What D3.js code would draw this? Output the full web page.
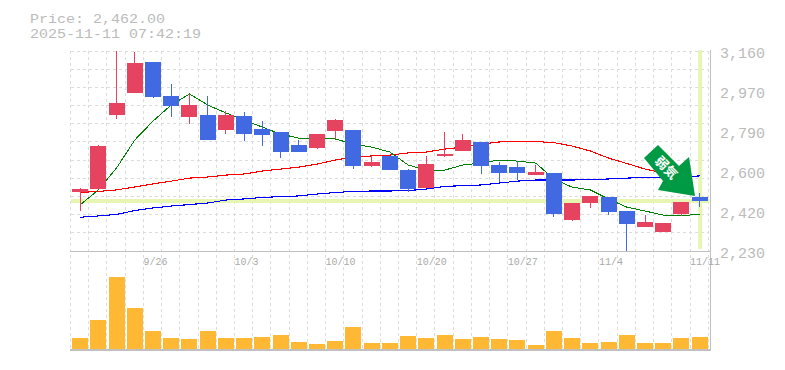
<!DOCTYPE html>
<html><head><meta charset="utf-8">
<script src="https://cdn.jsdelivr.net/npm/d3@7"></script>
<style>html,body{margin:0;padding:0;background:#fff}svg{display:block}</style></head>
<body><svg id="c" width="785" height="370"></svg>
<script>
const titleLines = ["Price: 2,462.00", "2025-11-11 07:42:19"];
const arrowLabel = "弱気";
const opens  = [2504,2518,2862,2965,3109,2951,2853,2862,2792,2858,2797,2783,2723,2709,2788,2792,2625,2672,2606,2523,2672,2695,2737,2630,2620,2583,2593,2374,2453,2481,2416,2341,2318,2402,2481];
const highs  = [2523,2723,3160,3155,3109,3006,2960,2951,2881,2876,2834,2783,2746,2774,2844,2792,2672,2672,2611,2672,2783,2774,2737,2644,2648,2630,2593,2453,2486,2481,2416,2397,2360,2458,2500];
const lows   = [2417,2518,2845,2965,2941,2853,2820,2746,2774,2741,2718,2662,2690,2704,2751,2611,2620,2606,2504,2523,2667,2695,2588,2551,2560,2583,2388,2369,2430,2397,2230,2341,2318,2393,2434];
const closes = [2518,2718,2918,3104,2946,2904,2909,2746,2862,2774,2769,2690,2690,2774,2839,2625,2644,2606,2518,2634,2681,2746,2625,2593,2593,2597,2402,2453,2486,2411,2355,2365,2360,2458,2462];
const maShort = [2444,2514,2616,2746,2834,2909,2960,2909,2872,2839,2806,2774,2755,2751,2751,2727,2713,2690,2630,2606,2606,2630,2639,2653,2648,2639,2565,2527,2514,2472,2434,2416,2397,2393,2402];
const maMid   = [2502,2507,2514,2528,2542,2555,2569,2574,2583,2588,2602,2611,2620,2634,2653,2667,2672,2676,2686,2690,2704,2713,2727,2737,2739,2739,2734,2718,2695,2662,2637,2611,2593,2569];
const maLong  = [2387,2393,2400,2418,2430,2439,2446,2453,2467,2472,2479,2483,2486,2495,2502,2507,2509,2509,2511,2518,2530,2534,2537,2546,2555,2560,2560,2560,2562,2565,2569,2572,2574,2576,2579];
const volumes = [10,28,71,40,17,10,9,17,10,10,11,13,6,4,7,21,5,5,12,10,13,9,11,9,8,3,17,10,5,6,13,5,5,10,11];
const priceTicks = [3160,2970,2790,2600,2420,2230];
const dateLabels = [[4,"9/26"],[9,"10/3"],[14,"10/10"],[19,"10/20"],[24,"10/27"],[29,"11/4"],[34,"11/11"]];
const lastPrice = 2462;

const svg = d3.select("#c");
const mono = "'Liberation Mono','DejaVu Sans Mono',monospace";
const n = closes.length;
const x = d3.scaleBand().domain(d3.range(n)).range([70.5, 708.3]).paddingInner(0).paddingOuter(0);
const cx = i => x(i) + x.bandwidth()/2 + 0.5;
const y = d3.scaleLinear().domain([2230,3160]).range([251,51]);
const yv = d3.scaleLinear().domain([0,71]).range([348.5,277]);
const gridVals = d3.range(12).map(i => 2230 + i*930/11);

const grid = svg.append("g").attr("stroke","#dcdcdc").attr("stroke-dasharray","3 3").attr("shape-rendering","crispEdges");
grid.selectAll(".h").data(gridVals.slice(1)).join("line")
  .attr("x1",70.5).attr("x2",708).attr("y1",d=>y(d)).attr("y2",d=>y(d));
grid.selectAll(".v").data(d3.range(n+1)).join("line")
  .attr("x1",i=>i<n?x(i):708.3).attr("x2",i=>i<n?x(i):708.3).attr("y1",51).attr("y2",348);

svg.append("line").attr("x1",71).attr("x2",709.5).attr("y1",y(lastPrice)).attr("y2",y(lastPrice))
  .attr("stroke","#e6f6b2").attr("stroke-width",4);
svg.append("line").attr("x1",cx(n-1)+0.5).attr("x2",cx(n-1)+0.5).attr("y1",50).attr("y2",249)
  .attr("stroke","#e6f6b2").attr("stroke-width",4);

const frame = svg.append("g").attr("stroke","#c0c0c0").attr("shape-rendering","crispEdges");
frame.append("line").attr("x1",70).attr("x2",710).attr("y1",251).attr("y2",251);
frame.append("line").attr("x1",70).attr("x2",710).attr("y1",350).attr("y2",350).attr("stroke-width",2);
frame.append("line").attr("x1",710).attr("x2",710).attr("y1",50).attr("y2",351);

const line = d3.line().x((d,i)=>cx(i)).y(d=>y(d));
[[maLong,"#0000ff",1.1],[maMid,"#ff0000",1.1],[maShort,"#008000",1]].forEach(([a,c,w])=>{
  svg.append("path").attr("d",line(a)).attr("fill","none").attr("stroke",c).attr("stroke-width",w).attr("shape-rendering","crispEdges");
});

const col = i => closes[i] >= opens[i] ? "#e5435f" : "#4169e1";
const candles = svg.append("g").attr("shape-rendering","crispEdges");
candles.selectAll(".w").data(d3.range(n)).join("line")
  .attr("x1",cx).attr("x2",cx).attr("y1",i=>y(highs[i])).attr("y2",i=>y(lows[i]))
  .attr("stroke",col).attr("stroke-width",1);
candles.selectAll(".b").data(d3.range(n)).join("rect")
  .attr("x",i=>cx(i)-8).attr("width",16)
  .attr("y",i=>y(Math.max(opens[i],closes[i])))
  .attr("height",i=>Math.max(1,Math.abs(y(opens[i])-y(closes[i]))))
  .attr("fill",col);

svg.append("g").selectAll("rect").data(volumes).join("rect")
  .attr("x",(d,i)=>cx(i)-8).attr("width",16)
  .attr("y",d=>yv(d)).attr("height",d=>yv(0)-yv(d)).attr("fill","#ffb833").attr("shape-rendering","crispEdges");

// signal arrow
const arrow = svg.append("g").attr("transform","translate(695,196)");
arrow.append("path").attr("d",d3.line()([[0,0],[-37,-6],[-32,-15],[-51,-38],[-37,-51],[-16,-30],[-6,-39]])+"Z").attr("fill","#009944");
arrow.append("text").attr("transform","translate(-28,-29) rotate(45)")
  .attr("text-anchor","middle").attr("dominant-baseline","central")
  .attr("font-family","'Noto Sans CJK JP'").attr("font-size",13).attr("font-weight",700).attr("fill","#fff").text(arrowLabel);

svg.append("g").selectAll("text").data(titleLines).join("text")
  .attr("x",30).attr("y",(d,i)=>23+i*15).attr("font-family",mono).attr("font-size",13.2).attr("fill","#bbb")
  .attr("textLength",d=>d.length*9).attr("lengthAdjust","spacingAndGlyphs").text(d=>d);

svg.append("g").selectAll("text").data(priceTicks).join("text")
  .attr("x",720).attr("y",(d,i)=>58+i*40).attr("font-family",mono).attr("font-size",15).attr("fill","#bbb")
  .text(d=>d3.format(",")(d));

svg.append("g").selectAll("text").data(dateLabels).join("text")
  .attr("x",d=>x(d[0])).attr("y",265).attr("font-family",mono).attr("font-size",10).attr("fill","#aaa").text(d=>d[1]);
</script></body></html>
